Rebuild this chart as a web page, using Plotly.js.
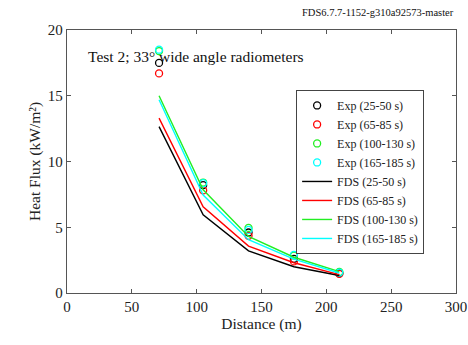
<!DOCTYPE html>
<html><head><meta charset="utf-8">
<script src="https://cdn.plot.ly/plotly-3.0.1.min.js"></script>
<style>body{margin:0;background:#fff}#c{width:468px;height:345px}</style>
</head><body><div id="c"></div>
<script>
const distance = [71, 105, 140, 175, 210];
const expLabels = ["Exp (25-50 s)", "Exp (65-85 s)", "Exp (100-130 s)", "Exp (165-185 s)"];
const fdsLabels = ["FDS (25-50 s)", "FDS (65-85 s)", "FDS (100-130 s)", "FDS (165-185 s)"];
const colors = ["black", "red", "#22ee22", "cyan"];
const exp_25_50   = [17.5, 8.2, 4.6, 2.6, 1.5];
const exp_65_85   = [16.7, 7.8, 4.35, 2.4, 1.45];
const exp_100_130 = [18.4, 8.4, 4.95, 2.85, 1.6];
const exp_165_185 = [18.5, 8.35, 4.8, 2.9, 1.55];
const fds_25_50   = [12.65, 5.95, 3.2, 2.0, 1.33];
const fds_65_85   = [13.3, 6.55, 3.57, 2.3, 1.4];
const fds_100_130 = [15.0, 7.85, 4.3, 2.72, 1.62];
const fds_165_185 = [14.7, 7.45, 4.05, 2.57, 1.52];
const expData = [exp_25_50, exp_65_85, exp_100_130, exp_165_185];
const fdsData = [fds_25_50, fds_65_85, fds_100_130, fds_165_185];
const xTicks = [0, 50, 100, 150, 200, 250, 300];
const yTicks = [0, 5, 10, 15, 20];

const traces = [];
expData.forEach((d, i) => traces.push({
  x: distance, y: d, type: 'scatter', mode: 'markers', name: expLabels[i],
  marker: {symbol: 'circle-open', size: 7, color: colors[i], line: {width: 1.3, color: colors[i]}}
}));
fdsData.forEach((d, i) => traces.push({
  x: distance, y: d, type: 'scatter', mode: 'lines', name: fdsLabels[i],
  line: {color: colors[i], width: 1.4}
}));

const serif = 'Liberation Serif, Times New Roman, serif';
const axisCommon = {
  showgrid: false, zeroline: false, showline: true, mirror: 'ticks',
  linecolor: '#555', linewidth: 1.2, ticks: 'inside', ticklen: 4, tickcolor: '#555',
  tickfont: {family: serif, size: 15, color: '#222'}
};
const layout = {
  width: 468, height: 345,
  margin: {l: 67, r: 12, t: 30, b: 52},
  paper_bgcolor: 'white', plot_bgcolor: 'white',
  showlegend: true,
  font: {family: serif, color: '#222'},
  xaxis: Object.assign({}, axisCommon, {range: [0, 300], tickvals: xTicks,
    title: {text: 'Distance (m)', font: {family: serif, size: 15.5, color: '#222'}, standoff: 4}}),
  yaxis: Object.assign({}, axisCommon, {range: [0, 20], tickvals: yTicks,
    title: {text: 'Heat Flux (kW/m²)', font: {family: serif, size: 15.5, color: '#222'}, standoff: 3}}),
  legend: {x: 0.589, y: 0.772, xanchor: 'left', yanchor: 'top',
    bgcolor: 'white', bordercolor: '#444', borderwidth: 1,
    font: {family: serif, size: 12, color: '#222'}, tracegroupgap: 0, itemwidth: 30},
  annotations: [
    {text: 'Test 2; 33° wide angle radiometers', xref: 'paper', yref: 'paper',
     x: 0.05, y: 0.9, xanchor: 'left', yanchor: 'middle', showarrow: false,
     font: {family: serif, size: 15.5, color: '#111'}},
    {text: 'FDS6.7.7-1152-g310a92573-master', xref: 'paper', yref: 'paper',
     x: 1.0, y: 1.0, xanchor: 'right', yanchor: 'bottom', yshift: 10, showarrow: false,
     font: {family: serif, size: 10.5, color: '#111'}}
  ]
};
Plotly.newPlot('c', traces, layout, {displayModeBar: false, staticPlot: true});
</script></body></html>
